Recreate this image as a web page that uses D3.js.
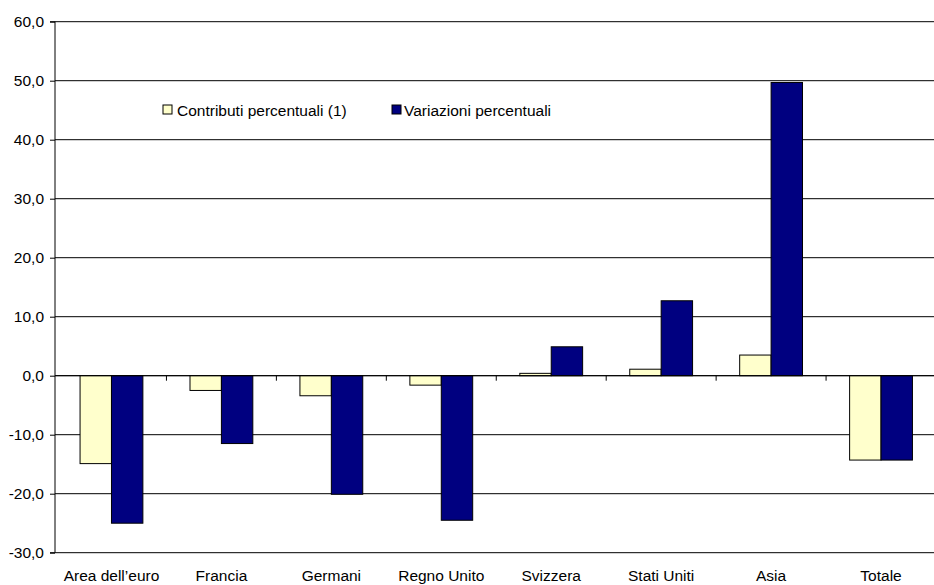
<!DOCTYPE html>
<html>
<head>
<meta charset="utf-8">
<script src="https://cdn.jsdelivr.net/npm/d3@7"></script>
<style>
  html, body { margin: 0; padding: 0; background: #fff; }
  svg text { font-family: "Liberation Sans", Arial, sans-serif; fill: #000; }
</style>
</head>
<body>
<svg id="chart" width="934" height="585"></svg>
<script>
// Categories and the two series (percent)
const categories = ["Area dell\u2019euro", "Francia", "Germani", "Regno Unito", "Svizzera", "Stati Uniti", "Asia", "Totale"];
const contributi = [-14.9, -2.5, -3.4, -1.6, 0.4, 1.1, 3.5, -14.3];
const variazioni = [-25.0, -11.5, -20.1, -24.5, 4.9, 12.7, 49.7, -14.3];
const seriesNames = ["Contributi percentuali (1)", "Variazioni percentuali"];
const yTicks = [-30, -20, -10, 0, 10, 20, 30, 40, 50, 60];

const colors = ["#FFFFCC", "#000080"];
const svg = d3.select("#chart");

const plot = { left: 55, right: 936, top: 21.7, bottom: 552.7 };

const y = d3.scaleLinear().domain([-30, 60]).range([plot.bottom, plot.top]);
const x = d3.scaleBand().domain(categories).range([plot.left + 1.5, plot.right]).paddingInner(0).paddingOuter(0);

const bw = x.bandwidth() / 3.5;
// one decimal, comma separator, plain hyphen for negatives
const fmt = v => v.toFixed(1).replace(".", ",");

// horizontal gridlines
svg.append("g").selectAll("line").data(yTicks).join("line")
  .attr("x1", plot.left).attr("x2", 934)
  .attr("y1", d => y(d)).attr("y2", d => y(d))
  .attr("stroke", "#000").attr("stroke-width", 1);

// y axis
const yAxis = d3.axisLeft(y).tickValues(yTicks).tickFormat(fmt).tickSize(5).tickPadding(6);
const ga = svg.append("g").attr("transform", `translate(${plot.left},0)`).call(yAxis);
ga.select(".domain").attr("stroke", "#000").attr("d", `M-5,${y(60)}H0V${y(-30)}H-5`);
ga.selectAll(".tick line").attr("stroke", "#000");
ga.selectAll(".tick text").style("font-size", "15.5px").attr("fill", "#000")
  .attr("font-family", "Liberation Sans, Arial, sans-serif");

// bars
const data = categories.map((c, i) => ({ c, vals: [contributi[i], variazioni[i]] }));
const groups = svg.append("g").selectAll("g").data(data).join("g");
groups.selectAll("rect").data(d => d.vals.map((v, k) => ({ c: d.c, v, k }))).join("rect")
  .attr("x", d => x(d.c) + x.bandwidth() / 2 - bw + d.k * bw)
  .attr("width", bw)
  .attr("y", d => y(Math.max(0, d.v)))
  .attr("height", d => Math.abs(y(d.v) - y(0)))
  .attr("fill", d => colors[d.k])
  .attr("stroke", "#000").attr("stroke-width", 1);

// x axis along zero with ticks between categories
const gx = svg.append("g");
gx.append("line").attr("x1", plot.left).attr("x2", 934)
  .attr("y1", y(0)).attr("y2", y(0)).attr("stroke", "#000");
gx.selectAll("line.tk").data(categories.slice(1)).join("line").attr("class", "tk")
  .attr("x1", d => x(d)).attr("x2", d => x(d))
  .attr("y1", y(0)).attr("y2", y(0) + 5).attr("stroke", "#000");

// category labels
svg.append("g").selectAll("text").data(categories).join("text")
  .attr("x", d => x(d) + x.bandwidth() / 2)
  .attr("y", 581)
  .attr("text-anchor", "middle")
  .style("font-size", "15.5px")
  .text(d => d);

// legend
const legend = [
  { name: seriesNames[0], color: colors[0], sx: 163, tx: 177 },
  { name: seriesNames[1], color: colors[1], sx: 392, tx: 404 }
];
const lg = svg.append("g");
lg.selectAll("rect").data(legend).join("rect")
  .attr("x", d => d.sx).attr("y", 105).attr("width", 9).attr("height", 9)
  .attr("fill", d => d.color).attr("stroke", "#000").attr("stroke-width", 1);
lg.selectAll("text").data(legend).join("text")
  .attr("x", d => d.tx).attr("y", 116)
  .style("font-size", "15.5px")
  .text(d => d.name);
</script>
</body>
</html>
